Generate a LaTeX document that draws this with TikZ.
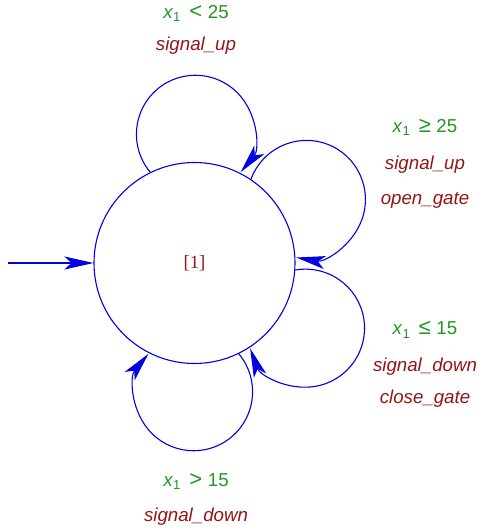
\documentclass[tikz,border=0pt]{standalone}
\usepackage{fontspec}
\setmainfont{Liberation Serif}
\setsansfont{Liberation Sans}
\usepackage{tikz}
\usetikzlibrary{arrows.meta}
\definecolor{edgeblue}{RGB}{0,0,225}
\definecolor{guardgreen}{RGB}{34,150,34}
\definecolor{actred}{RGB}{150,20,20}
\tikzset{
    state/.style={draw=edgeblue, circle, line width=1.1pt, minimum size=201pt,
                  inner sep=0pt, font=\fontsize{18.7}{22}\selectfont, text=actred},
    guard/.style={font=\fontsize{18.7}{22}\selectfont\sffamily,
                  text=guardgreen, anchor=base},
    action/.style={font=\fontsize{18.7}{22}\selectfont\sffamily\itshape,
                   text=actred, anchor=base},
}
\newcommand{\xone}{\textit{x}\textsubscript{1}}
\newcommand{\rel}[1]{\hspace{0.45em}{\fontsize{22}{22}\selectfont #1}\hspace{0.3em}}

\begin{document}
\begin{tikzpicture}[
    x=1pt, y=1pt,
    arr/.style={-{Stealth[length=29pt, width=13pt, inset=7pt]}, line width=1.1pt, edgeblue},
]
    \useasboundingbox (0,0) rectangle (481,527);
    \node[state] (s) at (194.5,264) {[1]};
    \coordinate (init) at (8,264);

    \draw[arr] (init) -- (s);
    \draw[arr] (s.116) arc[start angle=220, end angle=-40, radius=59pt];
    \draw[arr] (s.56) arc[start angle=160, end angle=-100, radius=59pt];
    \draw[arr] (s.-4) arc[start angle=100, end angle=-160, radius=59pt];
    \draw[arr] (s.-64) arc[start angle=40, end angle=-220, radius=59pt];

    \node[guard] (topguard) at (196,508.7) {\xone\rel{<}25};
    \node[action] (topup) at (196,476.3) {signal\_up};

    \node[guard] (openguard) at (425,394.3) {\xone\rel{≥}25};
    \node[action] (openup) at (425,357) {signal\_up};
    \node[action] (opengate) at (425,322) {open\_gate};

    \node[guard] (closeguard) at (425,192) {\xone\rel{≤}15};
    \node[action] (closedown) at (425,155.3) {signal\_down};
    \node[action] (closegate) at (425,123.7) {close\_gate};

    \node[guard] (botguard) at (196,40.3) {\xone\rel{>}15};
    \node[action] (botdown) at (196,5.3) {signal\_down};
\end{tikzpicture}
\end{document}
